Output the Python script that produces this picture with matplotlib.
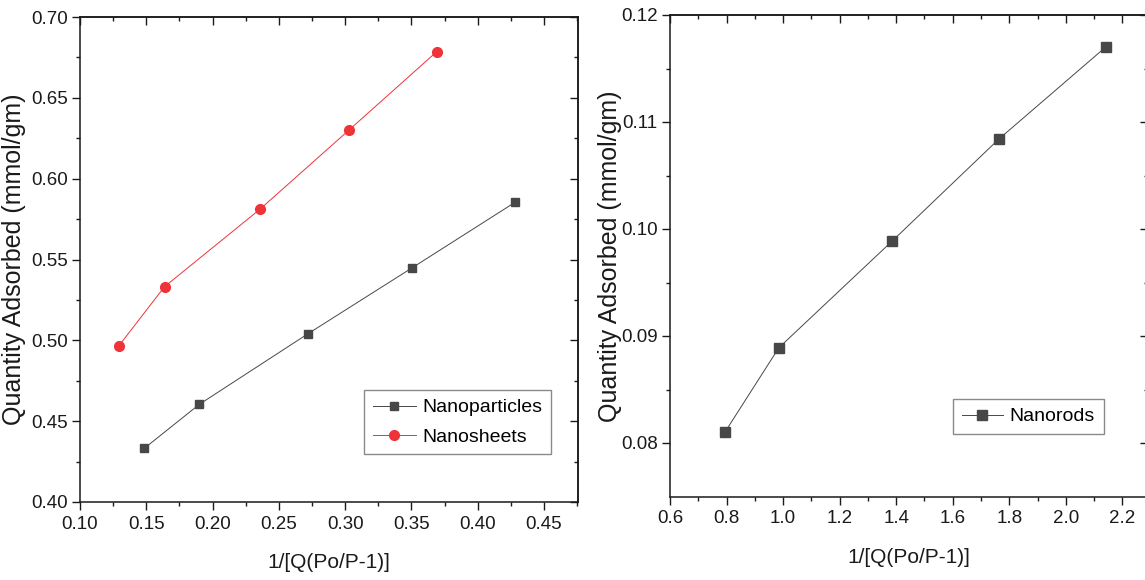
import matplotlib
matplotlib.use("Agg")
import matplotlib.pyplot as plt
from matplotlib import font_manager
from matplotlib.ticker import FixedLocator, FormatStrFormatter

# BET plots: quantity adsorbed vs 1/[Q(Po/P-1)]
np_x = [0.1485, 0.190, 0.272, 0.3506, 0.4282]
np_y = [0.4332, 0.4604, 0.5041, 0.5449, 0.5854]
ns_x = [0.1294, 0.1638, 0.2359, 0.3032, 0.3690]
ns_y = [0.4967, 0.5332, 0.5812, 0.6303, 0.6785]
nr_x = [0.794, 0.985, 1.387, 1.763, 2.141]
nr_y = [0.0810, 0.0889, 0.0989, 0.1084, 0.1170]

left_xticks = [0.10, 0.15, 0.20, 0.25, 0.30, 0.35, 0.40, 0.45]
left_yticks = [0.40, 0.45, 0.50, 0.55, 0.60, 0.65, 0.70]
right_xticks = [0.6, 0.8, 1.0, 1.2, 1.4, 1.6, 1.8, 2.0, 2.2]
right_yticks = [0.08, 0.09, 0.10, 0.11, 0.12]

xlabel = "1/[Q(Po/P-1)]"
ylabel = "Quantity Adsorbed (mmol/gm)"

names = {f.name for f in font_manager.fontManager.ttflist}
if "Liberation Sans Narrow" in names:
    tick_font, tick_size = "Liberation Sans Narrow", 15
else:
    tick_font, tick_size = "Liberation Sans", 13.5
plt.rcParams["font.family"] = ["Liberation Sans", "DejaVu Sans"]

ink = "#1a1a1a"
dark = "#474747"
red = "#ee3339"


def minors(ticks):
    step = (ticks[1] - ticks[0]) / 2
    return [t + step for t in ticks[:-1]] + [ticks[-1] + step]


def style(ax, xticks, yticks, xlim, ylim, xfmt, yfmt):
    ax.set_xlim(*xlim)
    ax.set_ylim(*ylim)
    for s in ax.spines.values():
        s.set_linewidth(1.1)
        s.set_color(ink)
    ax.xaxis.set_major_locator(FixedLocator(xticks))
    ax.xaxis.set_minor_locator(FixedLocator(minors(xticks)))
    ax.yaxis.set_major_locator(FixedLocator(yticks))
    ax.yaxis.set_minor_locator(FixedLocator(minors(yticks)))
    ax.xaxis.set_major_formatter(FormatStrFormatter(xfmt))
    ax.yaxis.set_major_formatter(FormatStrFormatter(yfmt))
    ax.tick_params(which="both", direction="out", width=1.0, color=ink,
                   labelcolor=ink, pad=3.5, labelsize=tick_size,
                   labelfontfamily=tick_font)
    ax.tick_params(axis="x", pad=4.5)
    ax.tick_params(which="major", length=5.5)
    ax.tick_params(which="minor", length=3)

    # inward ticks on the top and right frame
    top = ax.secondary_xaxis("top")
    top.xaxis.set_major_locator(FixedLocator(xticks))
    top.xaxis.set_minor_locator(FixedLocator(minors(xticks)))
    top.tick_params(which="both", direction="in", width=1.0, color=ink,
                    labeltop=False)
    top.tick_params(which="major", length=5.5)
    top.tick_params(which="minor", length=3)
    right = ax.secondary_yaxis("right")
    right.yaxis.set_major_locator(FixedLocator(yticks))
    right.yaxis.set_minor_locator(FixedLocator(minors(yticks)))
    right.tick_params(which="both", direction="in", width=1.0, color=ink,
                      labelright=False)
    right.tick_params(which="major", length=5.5)
    right.tick_params(which="minor", length=3)
    for s in list(top.spines.values()) + list(right.spines.values()):
        s.set_linewidth(1.1)
        s.set_color(ink)


fig = plt.figure(figsize=(11.45, 5.8), dpi=100)
ax1 = fig.add_axes([80 / 1145, 1 - 502 / 580, 497.7 / 1145, 485 / 580])
ax2 = fig.add_axes([670 / 1145, 1 - 496.5 / 580, 477.5 / 1145, 481.5 / 580])

ax1.plot(np_x, np_y, color=dark, lw=0.7, marker="s", ms=6.2,
         mec=dark, mfc=dark, label="Nanoparticles")
ax1.plot(ns_x, ns_y, color=red, lw=0.7, marker="o", ms=7,
         mec=red, mfc=red, label="Nanosheets")
style(ax1, left_xticks, left_yticks, (0.10, 0.4754), (0.40, 0.70),
      "%.2f", "%.2f")
ax1.set_xlabel(xlabel, fontsize=15, color=ink)
ax1.set_ylabel(ylabel, fontsize=18, color=ink)
ax1.xaxis.set_label_coords(0.5, -0.105)
ax1.yaxis.set_label_coords(-0.108, 0.5)
leg1 = ax1.legend(loc="upper left", bbox_to_anchor=(0.5706, 0.231),
                  fontsize=14, fancybox=False, edgecolor="#8a8a8a",
                  framealpha=1, handlelength=2.2, handletextpad=0.35,
                  borderpad=0.45, labelspacing=0.6, borderaxespad=0)
leg1.get_frame().set_linewidth(1.0)

ax2.plot(nr_x, nr_y, color=dark, lw=0.7, marker="s", ms=6.5,
         mec=dark, mfc=dark, label="Nanorods")
style(ax2, right_xticks, right_yticks, (0.6, 2.289), (0.075, 0.12),
      "%.1f", "%.2f")
ax2.set_xlabel(xlabel, fontsize=15, color=ink)
ax2.set_ylabel(ylabel, fontsize=18, color=ink)
ax2.xaxis.set_label_coords(0.5, -0.107)
ax2.yaxis.set_label_coords(-0.1, 0.5)
leg2 = ax2.legend(loc="upper left", bbox_to_anchor=(0.593, 0.2025),
                  fontsize=14, fancybox=False, edgecolor="#8a8a8a",
                  framealpha=1, handlelength=2.1, handletextpad=0.35,
                  borderpad=0.45, borderaxespad=0)
leg2.get_frame().set_linewidth(1.0)

fig.savefig("out.png", dpi=100)
